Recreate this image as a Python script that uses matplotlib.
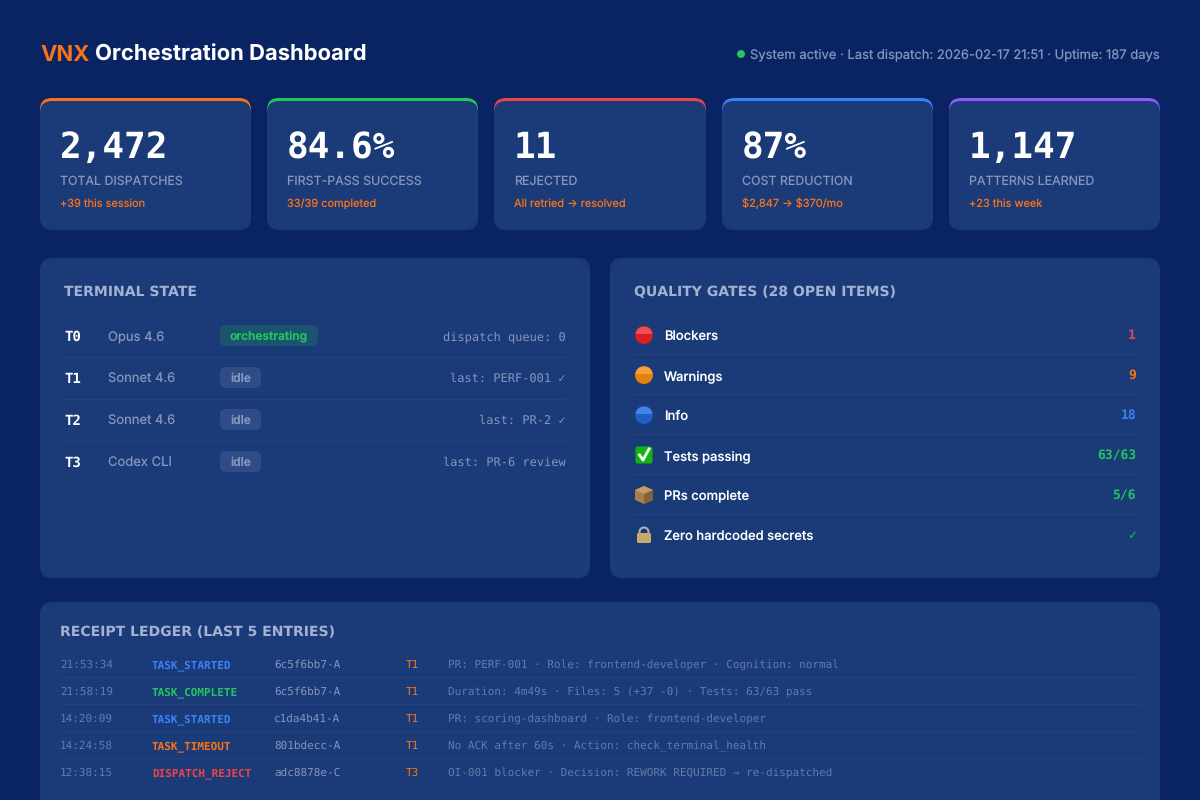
import matplotlib
matplotlib.use("Agg")
import matplotlib.pyplot as plt
from matplotlib.patches import FancyBboxPatch, Circle, Rectangle, Polygon

# browser like text widths
plt.rcParams["text.hinting"] = "no_hinting"
plt.rcParams["text.hinting_factor"] = 1

# data
stat_values = ["2,472", "84.6%", "11", "87%", "1,147"]
stat_labels = ["TOTAL DISPATCHES", "FIRST-PASS SUCCESS", "REJECTED", "COST REDUCTION", "PATTERNS LEARNED"]
stat_notes = ["+39 this session", "33/39 completed", "All retried → resolved", "$2,847 → $370/mo", "+23 this week"]
stat_colors = ["#f97316", "#22c55e", "#ef4444", "#3b82f6", "#8b5cf6"]

term_ids = ["T0", "T1", "T2", "T3"]
term_models = ["Opus 4.6", "Sonnet 4.6", "Sonnet 4.6", "Codex CLI"]
term_states = ["orchestrating", "idle", "idle", "idle"]
term_notes = ["dispatch queue: 0", "last: PERF-001 ✓", "last: PR-2 ✓", "last: PR-6 review"]

gate_names = ["Blockers", "Warnings", "Info", "Tests passing", "PRs complete", "Zero hardcoded secrets"]
gate_values = ["1", "9", "18", "63/63", "5/6", "✓"]
gate_colors = ["#ef4444", "#f97316", "#3b82f6", "#22c55e", "#22c55e", "#22c55e"]

led_times = ["21:53:34", "21:58:19", "14:20:09", "14:24:58", "12:38:15"]
led_events = ["TASK_STARTED", "TASK_COMPLETE", "TASK_STARTED", "TASK_TIMEOUT", "DISPATCH_REJECT"]
led_colors = ["#3b82f6", "#22c55e", "#3b82f6", "#f97316", "#ef4444"]
led_ids = ["6c5f6bb7-A", "6c5f6bb7-A", "c1da4b41-A", "801bdecc-A", "adc8878e-C"]
led_terms = ["T1", "T1", "T1", "T1", "T3"]
led_details = [
    "PR: PERF-001 · Role: frontend-developer · Cognition: normal",
    "Duration: 4m49s · Files: 5 (+37 -0) · Tests: 63/63 pass",
    "PR: scoring-dashboard · Role: frontend-developer",
    "No ACK after 60s · Action: check_terminal_health",
    "OI-001 blocker · Decision: REWORK REQUIRED → re-dispatched",
]

BG = "#0a2463"
CARD = "#1b3a78"
LINE = "#22417e"
MUTED = "#8496bd"
HEAD = "#a3b2d2"
DIM = "#617aa8"
SANS = ["Inter", "DejaVu Sans"]
WIDE = ["DejaVu Sans"]
MONO2 = ["DejaVu Sans Mono"]


def px(size):
    return size * 0.72


def box(ax, x0, y0, x1, y1, r, color, z=1, **kw):
    p = FancyBboxPatch((x0, y0), x1 - x0, y1 - y0, boxstyle=f"round,pad=0,rounding_size={r}",
                       fc=color, ec="none", zorder=z, **kw)
    ax.add_patch(p)
    return p


def txt(ax, x, y, s, size, color, fam=SANS, weight="normal", ha="left"):
    # parse_math off, the $ in the cost note is plain text
    return ax.text(x, y, s, fontsize=px(size), color=color, family=fam, fontweight=weight,
                   ha=ha, va="baseline", zorder=5, parse_math=False)


fig = plt.figure(figsize=(12, 8), dpi=100, facecolor=BG)
ax = fig.add_axes([0, 0, 1, 1])
ax.set_xlim(0, 1200)
ax.set_ylim(800, 0)
ax.axis("off")

# header
txt(ax, 40, 61, "VNX", 22, "#f97316", weight="bold")
txt(ax, 95, 61, "Orchestration Dashboard", 22, "white", weight="bold")
ax.add_patch(Circle((741, 54), 4, fc="#22c55e", ec="none", zorder=5))
txt(ax, 1160, 58, "System active · Last dispatch: 2026-02-17 21:51 · Uptime: 187 days", 13, MUTED, ha="right")

# stat cards
card_x = [(40, 251), (267, 478), (494, 706), (722, 933), (949, 1160)]
for (x0, x1), val, lab, note, col in zip(card_x, stat_values, stat_labels, stat_notes, stat_colors):
    top = box(ax, x0, 98, x1, 230, 12, col, z=1)
    top.set_clip_path(Rectangle((x0, 98), x1 - x0, 20, transform=ax.transData))
    box(ax, x0, 101, x1, 230, 12, CARD, z=2)
    txt(ax, x0 + 20, 158, val, 36, "white", fam=MONO2, weight="bold")
    txt(ax, x0 + 20, 185, lab, 12.4, MUTED)
    txt(ax, x0 + 20, 207, note, 11, "#f97316")

# terminal state
box(ax, 40, 258, 590, 578, 12, CARD)
txt(ax, 64, 296, "TERMINAL STATE", 13.7, HEAD, fam=WIDE, weight="bold")
term_y = [336, 378, 420, 462]
for i, y in enumerate(term_y):
    txt(ax, 64, y + 5, term_ids[i], 14, "white", fam=MONO2, weight="bold")
    txt(ax, 108, y + 5, term_models[i], 13, MUTED)
    if term_states[i] == "orchestrating":
        box(ax, 220, y - 11, 318, y + 10, 6, "#1c5370", z=3)
        txt(ax, 230, y + 4, term_states[i], 12, "#22c55e", weight="semibold")
    else:
        box(ax, 220, y - 11, 261, y + 10, 6, "#2f4c86", z=3)
        txt(ax, 230, y + 4, term_states[i], 12, MUTED, weight="semibold")
    txt(ax, 566, y + 4, term_notes[i], 12, MUTED, fam=MONO2, ha="right")
    if i < 3:
        ax.plot([64, 566], [y + 20.5, y + 20.5], color=LINE, lw=1, zorder=3)

# quality gates
box(ax, 610, 258, 1160, 578, 12, CARD)
txt(ax, 634, 296, "QUALITY GATES (28 OPEN ITEMS)", 13.7, HEAD, fam=WIDE, weight="bold")
gate_y = [335, 375, 415, 455, 495, 535]
ball_cols = [("#d81e1e", "#e8505a"), ("#e5800a", "#f2a040"), ("#1f5ec4", "#4585ea")]
for i, y in enumerate(gate_y):
    if i < 3:
        ax.add_patch(Circle((644, y), 9, fc=ball_cols[i][0], ec="none", zorder=4))
        ax.add_patch(Rectangle((636, y - 8), 16, 6.5, fc=ball_cols[i][1], ec="none", zorder=5,
                               clip_path=Circle((644, y), 8.5, transform=ax.transData)))
    elif i == 3:
        box(ax, 635.5, y - 8.5, 652.5, y + 8.5, 2, "#10b510", z=4)
        ax.plot([639.5, 643, 649], [y, y + 5, y - 6], color="white", lw=2, zorder=5)
    elif i == 4:
        ax.add_patch(Polygon([[644, y - 9], [653, y - 5], [653, y + 5], [644, y + 9], [635, y + 5], [635, y - 5]],
                             fc="#a97c50", ec="none", zorder=4))
        ax.add_patch(Polygon([[644, y - 9], [653, y - 5], [644, y - 1], [635, y - 5]], fc="#c49a6c", ec="none", zorder=5))
        ax.add_patch(Polygon([[644, y - 1], [653, y - 5], [653, y + 5], [644, y + 9]], fc="#85603a", ec="none", zorder=5))
    else:
        ax.add_patch(Circle((644, y - 3), 4.5, fc="none", ec="#a9b0b8", lw=1.5, zorder=4))
        box(ax, 637, y - 2, 651, y + 8, 1.5, "#c8ab6c", z=5)
    txt(ax, 664, y + 5, gate_names[i], 13, "white", weight="medium")
    txt(ax, 1136, y + 4, gate_values[i], 13, gate_colors[i], fam=MONO2, weight="bold", ha="right")
    if i < 5:
        ax.plot([634, 1136], [y + 19, y + 19], color=LINE, lw=1, zorder=3)

# receipt ledger
box(ax, 40, 602, 1160, 815, 12, CARD)
txt(ax, 60, 636, "RECEIPT LEDGER (LAST 5 ENTRIES)", 14, HEAD, fam=WIDE, weight="bold")
led_y = [664, 691, 718, 745, 772]
for i, y in enumerate(led_y):
    b = y + 4
    txt(ax, 60, b, led_times[i], 11, DIM, fam=MONO2)
    txt(ax, 152, b, led_events[i], 11, led_colors[i], fam=MONO2, weight="bold")
    txt(ax, 274, b, led_ids[i], 11, MUTED, fam=MONO2)
    txt(ax, 406, b, led_terms[i], 11, "#f97316", fam=MONO2)
    txt(ax, 448, b, led_details[i], 11, DIM, fam=MONO2)
    if i < 4:
        ax.plot([60, 1140], [y + 13, y + 13], color=LINE, lw=1, zorder=3)

fig.savefig("out.png", dpi=100, facecolor=BG)
